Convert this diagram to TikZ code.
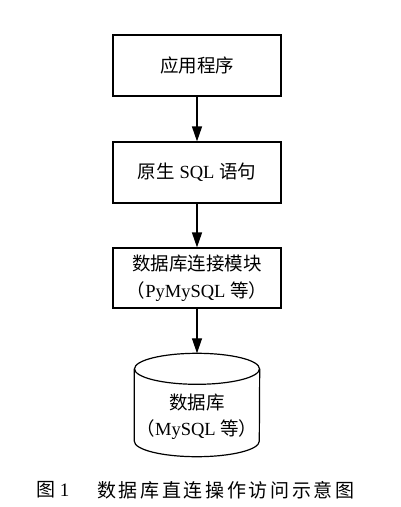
\documentclass[tikz,border=0pt]{standalone}
\usepackage{fontspec}
\setmainfont{Liberation Serif}
\newfontfamily\cjk{Noto Sans CJK SC}
\newfontfamily\cjkcap{Noto Sans CJK SC}[LetterSpace=14]
\usetikzlibrary{arrows.meta}
\begin{document}
\begin{tikzpicture}[x=1pt,y=1pt,
  box/.style={draw, line width=1.2pt, minimum width=168pt, minimum height=61pt, align=center, font=\fontsize{18.5}{27}\selectfont, inner sep=0pt},
  conn/.style={line width=1.2pt, -{Triangle[length=15pt,width=10pt]}},
  outline/.style={line width=1.2pt},
  lbl/.style={align=center, font=\fontsize{18.5}{26}\selectfont, inner sep=0pt}]
\useasboundingbox (0,0) rectangle (400,-507);
\fill[white] (0,0) rectangle (400,-507);
\node[box] (app) at (197,-65.5) {{\cjk 应用程序}};
\node[box] (sql) at (197,-172.5) {{\cjk 原生} SQL {\cjk 语句}};
\node[box, minimum height=60pt] (mod) at (197,-278) {{\cjk 数据库连接模块}\\{\cjk （}PyMySQL {\cjk 等）}};
\node[minimum width=125pt, minimum height=72pt, inner sep=0pt] (db) at (197,-405) {};
\draw[outline] (db.north west) -- (db.south west) arc[start angle=180, end angle=360, x radius=62.5, y radius=15.5] -- (db.north east);
\draw[outline] (db.north) ellipse[x radius=62.5, y radius=15.5];
\coordinate (dbtop) at ([yshift=15.5pt]db.north);
\node[lbl] (dbtext) at (197,-417) {{\cjk 数据库}\\{\cjk （}MySQL {\cjk 等）}};
\draw[conn] (app) -- (sql);
\draw[conn] (sql) -- (mod);
\draw[conn] (mod) -- (dbtop);
\node[anchor=west, inner sep=0pt, font=\fontsize{19}{20}\selectfont] (fig) at (36,-490) {{\cjk 图} 1};
\node[anchor=west, inner sep=0pt, font=\fontsize{19}{20}\selectfont] (cap) at (97,-490) {\cjkcap 数据库直连操作访问示意图};
\end{tikzpicture}
\end{document}
